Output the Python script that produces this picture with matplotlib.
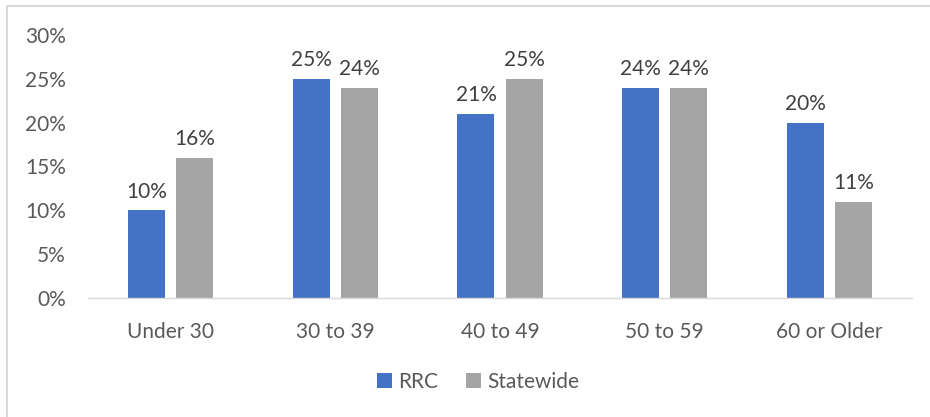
import matplotlib.pyplot as plt
from matplotlib.patches import Rectangle
import numpy as np

categories = ["Under 30", "30 to 39", "40 to 49", "50 to 59", "60 or Older"]
rrc = [10, 25, 21, 24, 20]
statewide = [16, 24, 25, 24, 11]

plt.rcParams["font.family"] = ["Lato", "DejaVu Sans"]
text_color = "#595959"

fig = plt.figure(figsize=(9.3, 4.17), dpi=100)
ax = fig.add_axes([88 / 930, 1 - 298 / 417, 824 / 930, 263 / 417])

x = np.arange(len(categories))
w = 0.225
off = 0.146
b1 = ax.bar(x - off, rrc, w, color="#4472C4", label="RRC")
b2 = ax.bar(x + off, statewide, w, color="#A5A5A5", label="Statewide")

for bars in (b1, b2):
    for b in bars:
        ax.text(b.get_x() + b.get_width() / 2, b.get_height() + 1.0,
                f"{b.get_height():.0f}%", ha="center", va="bottom",
                fontsize=15, color="#404040")

ax.set_xlim(-0.5, len(categories) - 0.5)
ax.set_ylim(0, 30)
ax.set_yticks(range(0, 31, 5))
ax.set_yticklabels([f"{v}%" for v in range(0, 31, 5)])
ax.set_xticks(x)
ax.set_xticklabels(categories)
ax.tick_params(axis="both", length=0, labelsize=15, colors=text_color)
ax.tick_params(axis="y", pad=16)
ax.tick_params(axis="x", pad=17)
for s in ["top", "right", "left"]:
    ax.spines[s].set_visible(False)
ax.spines["bottom"].set_color("#d9d9d9")
ax.spines["bottom"].set_linewidth(1)

leg = fig.legend(loc="center", bbox_to_anchor=(478 / 930, 1 - 382 / 417), ncol=2,
                 frameon=False, fontsize=15, handlelength=0.75, handleheight=0.75,
                 columnspacing=1.3, handletextpad=0.3)
for t in leg.get_texts():
    t.set_color(text_color)

fig.patches.append(Rectangle((7 / 930, -0.1), 1.1, 1.1 - 6 / 417,
                             transform=fig.transFigure, fill=False,
                             edgecolor="#d9d9d9", linewidth=1.5))

fig.savefig("out.png", dpi=100)
